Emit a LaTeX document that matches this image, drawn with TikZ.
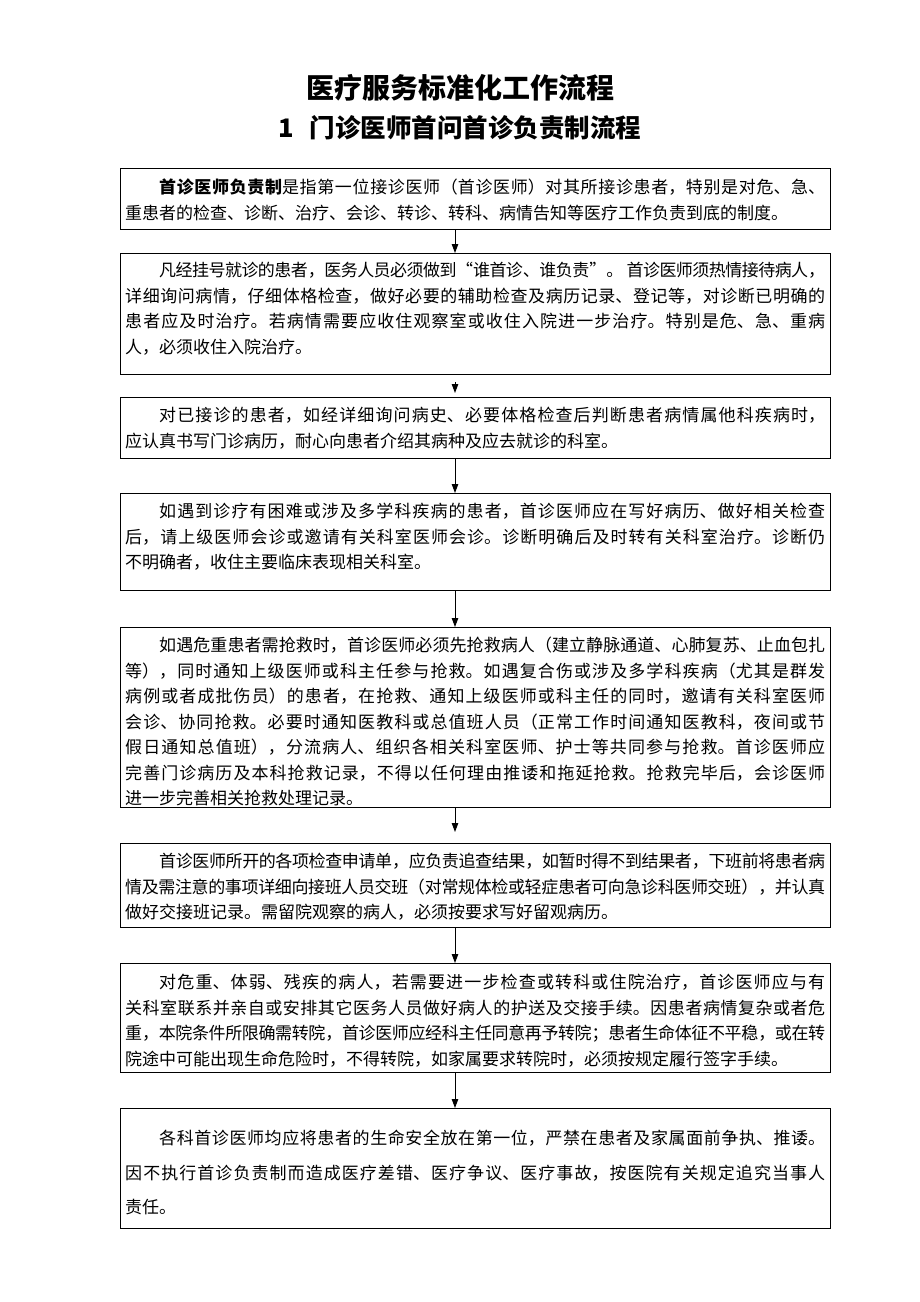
\documentclass[tikz,border=0pt]{standalone}
\usepackage{fontspec}
\setmainfont{Noto Sans CJK SC}
\usetikzlibrary{arrows.meta,calc}
\XeTeXlinebreaklocale "zh"
\XeTeXlinebreakskip=0pt plus 1em minus 0.12em
\newcommand\JL[1]{{\parfillskip=0pt #1\par}}
\newcommand\LL[1]{{\parfillskip=0pt plus 1fil #1\par}}
\newcommand\boxtext[2][25.5pt]{\parbox[t]{700pt}{\fontsize{17pt}{#1}\selectfont #2}}
\tikzset{
  flowbox/.style={draw, line width=1.1pt, inner sep=0pt, minimum width=710pt, anchor=north west},
  txt/.style={anchor=base west, inner sep=0pt},
  flowarrow/.style={-{Triangle[length=9pt,width=6.5pt]}, line width=0.9pt},
  titlefont/.style={inner sep=0pt, font=\bfseries\fontsize{28pt}{30pt}\selectfont},
  subtitlefont/.style={inner sep=0pt, font=\bfseries\fontsize{25.5pt}{27pt}\selectfont}
}
\begin{document}
\begin{tikzpicture}[x=1pt,y=-1pt]
\useasboundingbox (0,0) rectangle (920,1302);
\node[titlefont] (title) at (460,88) {医疗服务标准化工作流程};
\node[subtitlefont] (subtitle) at (460,128) {1\hspace{0.6em}门诊医师首问首诊负责制流程};

\node[flowbox, minimum height=61pt] (b1) at (120,168) {};
\node[flowbox, minimum height=121pt] (b2) at (120,253) {};
\node[flowbox, minimum height=61pt] (b3) at (120,397) {};
\node[flowbox, minimum height=97pt] (b4) at (120,493) {};
\node[flowbox, minimum height=180pt] (b5) at (120,627) {};
\node[flowbox, minimum height=84pt] (b6) at (120,843) {};
\node[flowbox, minimum height=109pt] (b7) at (120,963) {};
\node[flowbox, minimum height=120pt] (b8) at (120,1108) {};

\node[txt] (t1) at (125,193.5) {\boxtext{%
\JL{\hspace*{2em}\textbf{首诊医师负责制}是指第一位接诊医师（首诊医师）对其所接诊患者，特别是对危、急、}
\LL{重患者的检查、诊断、治疗、会诊、转诊、转科、病情告知等医疗工作负责到底的制度。}}};

\node[txt] (t2) at (125,276.5) {\boxtext{%
\JL{\hspace*{2em}凡经挂号就诊的患者，医务人员必须做到“谁首诊、谁负责”。\ 首诊医师须热情接待病人，}
\JL{详细询问病情，仔细体格检查，做好必要的辅助检查及病历记录、登记等，对诊断已明确的}
\JL{患者应及时治疗。若病情需要应收住观察室或收住入院进一步治疗。特别是危、急、重病}
\LL{人，必须收住入院治疗。}}};

\node[txt] (t3) at (125,421.5) {\boxtext{%
\JL{\hspace*{2em}对已接诊的患者，如经详细询问病史、必要体格检查后判断患者病情属他科疾病时，}
\LL{应认真书写门诊病历，耐心向患者介绍其病种及应去就诊的科室。}}};

\node[txt] (t4) at (125,517.5) {\boxtext{%
\JL{\hspace*{2em}如遇到诊疗有困难或涉及多学科疾病的患者，首诊医师应在写好病历、做好相关检查}
\JL{后，请上级医师会诊或邀请有关科室医师会诊。诊断明确后及时转有关科室治疗。诊断仍}
\LL{不明确者，收住主要临床表现相关科室。}}};

\node[txt] (t5) at (125,651.5) {\boxtext{%
\JL{\hspace*{2em}如遇危重患者需抢救时，首诊医师必须先抢救病人（建立静脉通道、心肺复苏、止血包扎}
\JL{等），同时通知上级医师或科主任参与抢救。如遇复合伤或涉及多学科疾病（尤其是群发}
\JL{病例或者成批伤员）的患者，在抢救、通知上级医师或科主任的同时，邀请有关科室医师}
\JL{会诊、协同抢救。必要时通知医教科或总值班人员（正常工作时间通知医教科，夜间或节}
\JL{假日通知总值班），分流病人、组织各相关科室医师、护士等共同参与抢救。首诊医师应}
\JL{完善门诊病历及本科抢救记录，不得以任何理由推诿和拖延抢救。抢救完毕后，会诊医师}
\LL{进一步完善相关抢救处理记录。}}};

\node[txt] (t6) at (125,867.5) {\boxtext{%
\JL{\hspace*{2em}首诊医师所开的各项检查申请单，应负责追查结果，如暂时得不到结果者，下班前将患者病}
\JL{情及需注意的事项详细向接班人员交班（对常规体检或轻症患者可向急诊科医师交班），并认真}
\LL{做好交接班记录。需留院观察的病人，必须按要求写好留观病历。}}};

\node[txt] (t7) at (125,988.5) {\boxtext{%
\JL{\hspace*{2em}对危重、体弱、残疾的病人，若需要进一步检查或转科或住院治疗，首诊医师应与有}
\JL{关科室联系并亲自或安排其它医务人员做好病人的护送及交接手续。因患者病情复杂或者危}
\JL{重，本院条件所限确需转院，首诊医师应经科主任同意再予转院；患者生命体征不平稳，或在转}
\LL{院途中可能出现生命危险时，不得转院，如家属要求转院时，必须按规定履行签字手续。}}};

\node[txt] (t8) at (125,1144.5) {\boxtext[34.5pt]{%
\JL{\hspace*{2em}各科首诊医师均应将患者的生命安全放在第一位，严禁在患者及家属面前争执、推诿。}
\JL{因不执行首诊负责制而造成医疗差错、医疗争议、医疗事故，按医院有关规定追究当事人}
\LL{责任。}}};

\coordinate (ax) at (455,0);
\draw[flowarrow] (b1.south -| ax) -- (b2.north -| ax);
\draw[flowarrow, shorten <=7pt, shorten >=4pt] (b2.south -| ax) -- (b3.north -| ax);
\draw[flowarrow] (b3.south -| ax) -- (b4.north -| ax);
\draw[flowarrow] (b4.south -| ax) -- (b5.north -| ax);
\draw[flowarrow, shorten >=11pt] (b5.south -| ax) -- (b6.north -| ax);
\draw[flowarrow] (b6.south -| ax) -- (b7.north -| ax);
\draw[flowarrow] (b7.south -| ax) -- (b8.north -| ax);
\end{tikzpicture}
\end{document}
